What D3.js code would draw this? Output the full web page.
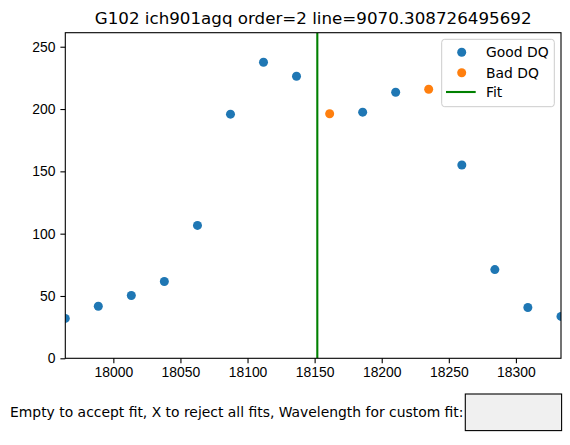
<!DOCTYPE html>
<html>
<head>
<meta charset="utf-8">
<script src="https://cdn.jsdelivr.net/npm/d3@7"></script>
<style>
  body { margin: 0; background: #fff; }
  svg { font-family: "DejaVu Sans", sans-serif; }
  .axis path, .axis line { stroke: #000; stroke-width: 1.1px; }
  .axis text { font-size: 13.9px; fill: #000; }
</style>
</head>
<body>
<div id="chart" style="width:570px;height:445px"></div>
<script>
// wavelength of each pixel along the trace
const wavelengths = [17964.2, 17988.8, 18013.4, 18038.0, 18062.7, 18087.3, 18111.9, 18136.5,
                     18161.2, 18185.8, 18210.4, 18235.0, 18259.7, 18284.3, 18308.9, 18333.6];
const fluxes = [32.0, 41.8, 50.4, 61.6, 106.6, 195.9, 237.5, 226.3,
                196.2, 197.5, 213.5, 215.9, 155.1, 71.2, 40.8, 33.6];
const badDQ = [false, false, false, false, false, false, false, false,
               true, false, false, true, false, false, false, false];
const fitWave = 18152.0;
const xTicks = [18000, 18050, 18100, 18150, 18200, 18250, 18300];
const yTicks = [0, 50, 100, 150, 200, 250];
const titleText = "G102 ich901agq order=2 line=9070.308726495692";
const promptText = "Empty to accept fit, X to reject all fits, Wavelength for custom fit:";
const legendLabels = ["Good DQ", "Bad DQ", "Fit"];

const points = wavelengths.map((w, i) => ({ w, f: fluxes[i], bad: badDQ[i] }));

function renderFitPlot(containerSelector) {
    const container = d3.select(containerSelector);
    const width = 570, height = 445;
    const margin = { top: 32.7, right: 9, bottom: 86.7, left: 65.3 };
    const r = 4.5;

    const svg = container.append("svg")
        .attr("width", width)
        .attr("height", height);

    const x = d3.scaleLinear()
        .domain([d3.min(wavelengths), d3.max(wavelengths)])
        .range([margin.left, width - margin.right]);

    const y = d3.scaleLinear()
        .domain([0, d3.max(fluxes) * 1.1])
        .range([height - margin.bottom, margin.top]);

    svg.append("clipPath").attr("id", "plotclip")
        .append("rect")
        .attr("x", margin.left).attr("y", margin.top)
        .attr("width", width - margin.left - margin.right)
        .attr("height", height - margin.top - margin.bottom);

    const plot = svg.append("g").attr("clip-path", "url(#plotclip)");

    // Points, good DQ then bad DQ
    plot.selectAll("circle.good")
        .data(points.filter(d => !d.bad))
        .join("circle")
        .attr("class", "good")
        .attr("cx", d => x(d.w))
        .attr("cy", d => y(d.f))
        .attr("r", r)
        .attr("fill", "#1f77b4");

    plot.selectAll("circle.bad")
        .data(points.filter(d => d.bad))
        .join("circle")
        .attr("class", "bad")
        .attr("cx", d => x(d.w))
        .attr("cy", d => y(d.f))
        .attr("r", r)
        .attr("fill", "#ff7f0e");

    // Fit line
    plot.append("line")
        .attr("x1", x(fitWave)).attr("x2", x(fitWave))
        .attr("y1", margin.top).attr("y2", height - margin.bottom)
        .attr("stroke", "#008000")
        .attr("stroke-width", 2.1);

    // Axes
    svg.append("g")
        .attr("class", "axis")
        .attr("transform", `translate(0,${height - margin.bottom})`)
        .call(d3.axisBottom(x).tickValues(xTicks).tickFormat(d3.format("d")).tickSize(4.9).tickPadding(4.4).tickSizeOuter(0))
        .call(g => g.select(".domain").remove());

    svg.append("g")
        .attr("class", "axis")
        .attr("transform", `translate(${margin.left},0)`)
        .call(d3.axisLeft(y).tickValues(yTicks).tickFormat(d3.format("d")).tickSize(4.9).tickPadding(4.9).tickSizeOuter(0))
        .call(g => g.select(".domain").remove());

    // Frame
    svg.append("rect")
        .attr("x", margin.left).attr("y", margin.top)
        .attr("width", width - margin.left - margin.right)
        .attr("height", height - margin.top - margin.bottom)
        .attr("fill", "none")
        .attr("stroke", "#000")
        .attr("stroke-width", 1.1);

    // Title
    svg.append("text")
        .attr("x", (margin.left + width - margin.right) / 2)
        .attr("y", 24)
        .attr("text-anchor", "middle")
        .style("font-size", "16.7px")
        .text(titleText);

    // Legend
    const lg = svg.append("g").attr("transform", "translate(441.7,39.3)");
    lg.append("rect")
        .attr("width", 112.6).attr("height", 67.4)
        .attr("rx", 3)
        .attr("fill", "#fff").attr("fill-opacity", 0.8)
        .attr("stroke", "#cccccc").attr("stroke-width", 1);
    const rows = [13, 33.4, 52.7];
    lg.append("circle").attr("cx", 20).attr("cy", rows[0]).attr("r", r).attr("fill", "#1f77b4");
    lg.append("circle").attr("cx", 20).attr("cy", rows[1]).attr("r", r).attr("fill", "#ff7f0e");
    lg.append("line").attr("x1", 4.3).attr("x2", 34).attr("y1", rows[2]).attr("y2", rows[2])
        .attr("stroke", "#008000").attr("stroke-width", 2.1);
    lg.selectAll("text.lab")
        .data(legendLabels)
        .join("text")
        .attr("class", "lab")
        .attr("x", 44.3)
        .attr("y", (d, i) => rows[i] + 5)
        .style("font-size", "13.9px")
        .text(d => d);

    // Prompt and text box
    svg.append("text")
        .attr("x", 463.5)
        .attr("y", 417)
        .attr("text-anchor", "end")
        .style("font-size", "13.9px")
        .text(promptText);

    svg.append("rect")
        .attr("x", 465.3).attr("y", 394)
        .attr("width", 96.3).attr("height", 36.6)
        .attr("fill", "#f0f0f0")
        .attr("stroke", "#000").attr("stroke-width", 1.1);
}

renderFitPlot("#chart");
</script>
</body>
</html>
